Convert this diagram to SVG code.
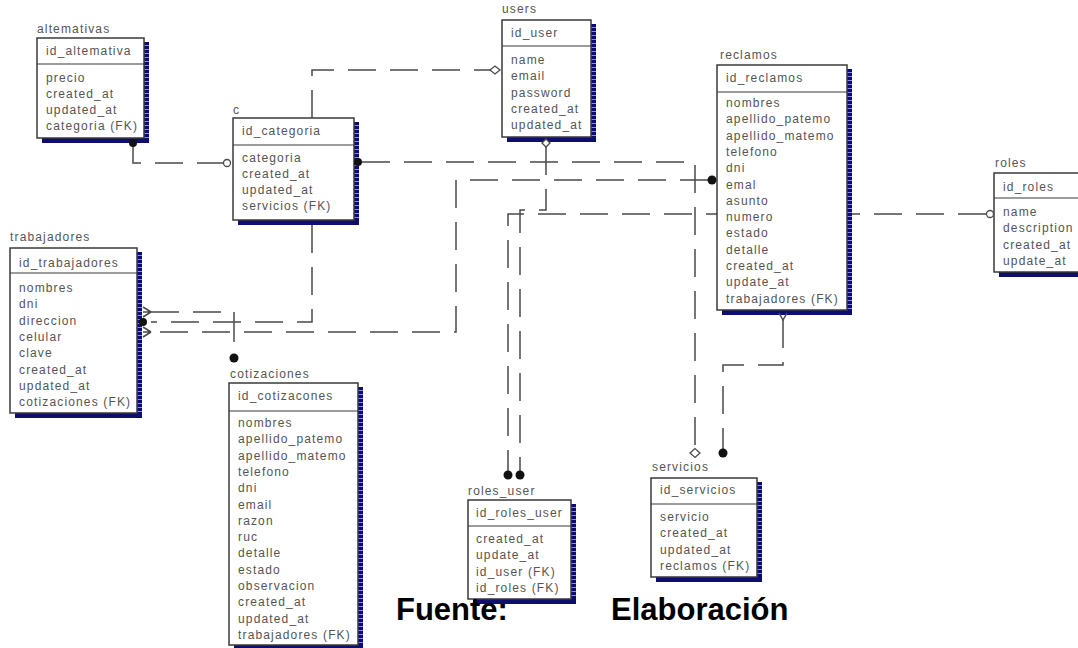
<svg xmlns="http://www.w3.org/2000/svg" width="1078" height="648" viewBox="0 0 1078 648">
<defs>
<pattern id="stripe" width="6" height="4" patternUnits="userSpaceOnUse"><rect width="6" height="4" fill="#0a0a78"/><rect y="3" width="6" height="1" fill="#8c8ce6"/></pattern>
</defs>
<style>
.box{fill:#fff;stroke:#3a3a3a;stroke-width:1.5}
.sep{stroke:#3a3a3a;stroke-width:1.2}
.shr{fill:url(#stripe)}
.shb{fill:#0e0e6e}
.t{font-family:"Liberation Sans",Arial,sans-serif;font-size:12px;fill:#555;letter-spacing:1.15px}
.ln{fill:none;stroke:#4a4a4a;stroke-width:1.5;stroke-dasharray:28 14}
.sl{fill:none;stroke:#4a4a4a;stroke-width:1.5}
.dot{fill:#111}
.hol{fill:#fff;stroke:#4a4a4a;stroke-width:1.3}
.src{font-family:"Liberation Sans",Arial,sans-serif;font-size:31px;font-weight:bold;fill:#000}
</style>
<rect width="1078" height="648" fill="#fff"/>

<g id="connectors">
<path class="ln" d="M133,143 V163 H223"/>
<path class="ln" d="M312,118 V70 H490"/>
<path class="ln" d="M362,162 H695 V448"/>
<path class="ln" d="M312,225 V322 H151"/>
<path class="ln" d="M708,180 H456 V332 H151"/>
<path class="ln" d="M151,312 H234"/>
<path class="sl" d="M234,312 V342"/>
<path class="ln" d="M546,147 V210 H520 V471"/>
<path class="ln" d="M986,214 H508 V471"/>
<path class="ln" d="M783,320 V365 H723 V449"/>
</g>

<g id="alternativas" transform="translate(37,38)">
<rect class="shr" x="107" y="4" width="5" height="100"/>
<rect class="shb" x="5" y="100" width="107" height="5"/>
<rect class="box" width="107" height="100"/>
<line class="sep" x1="0" y1="26" x2="107" y2="26"/>
<text class="t" x="0" y="-5">altemativas</text>
<text class="t" x="9" y="17">id_altemativa</text>
<text class="t" x="9" y="43.5">precio<tspan x="9" dy="16.3">created_at</tspan><tspan x="9" dy="16.3">updated_at</tspan><tspan x="9" dy="16.3">categoria (FK)</tspan></text>
</g>

<g id="categoria" transform="translate(233,118)">
<rect class="shr" x="121" y="4" width="5" height="102"/>
<rect class="shb" x="5" y="102" width="121" height="5"/>
<rect class="box" width="121" height="102"/>
<line class="sep" x1="0" y1="27" x2="121" y2="27"/>
<text class="t" x="0" y="-4">c</text>
<text class="t" x="9" y="17">id_categoria</text>
<text class="t" x="9" y="43.5">categoria<tspan x="9" dy="16.3">created_at</tspan><tspan x="9" dy="16.3">updated_at</tspan><tspan x="9" dy="16.3">servicios (FK)</tspan></text>
</g>

<g id="users" transform="translate(502,20)">
<rect class="shr" x="89" y="4" width="5" height="117"/>
<rect class="shb" x="5" y="117" width="89" height="5"/>
<rect class="box" width="89" height="117"/>
<line class="sep" x1="0" y1="26" x2="89" y2="26"/>
<text class="t" x="0" y="-7">users</text>
<text class="t" x="9" y="17">id_user</text>
<text class="t" x="9" y="44">name<tspan x="9" dy="16.3">email</tspan><tspan x="9" dy="16.3">password</tspan><tspan x="9" dy="16.3">created_at</tspan><tspan x="9" dy="16.3">updated_at</tspan></text>
</g>

<g id="reclamos" transform="translate(717,65)">
<rect class="shr" x="130" y="4" width="5" height="245"/>
<rect class="shb" x="5" y="245" width="130" height="5"/>
<rect class="box" width="130" height="245"/>
<line class="sep" x1="0" y1="27" x2="130" y2="27"/>
<text class="t" x="3" y="-6">reclamos</text>
<text class="t" x="9" y="17">id_reclamos</text>
<text class="t" x="9" y="42">nombres<tspan x="9" dy="16.3">apellido_patemo</tspan><tspan x="9" dy="16.3">apellido_matemo</tspan><tspan x="9" dy="16.3">telefono</tspan><tspan x="9" dy="16.3">dni</tspan><tspan x="9" dy="16.3">emal</tspan><tspan x="9" dy="16.3">asunto</tspan><tspan x="9" dy="16.3">numero</tspan><tspan x="9" dy="16.3">estado</tspan><tspan x="9" dy="16.3">detalle</tspan><tspan x="9" dy="16.3">created_at</tspan><tspan x="9" dy="16.3">update_at</tspan><tspan x="9" dy="16.3">trabajadores (FK)</tspan></text>
</g>

<g id="roles" transform="translate(994,173)">
<rect class="shr" x="100" y="4" width="5" height="99"/>
<rect class="shb" x="5" y="99" width="100" height="5"/>
<rect class="box" width="100" height="99"/>
<line class="sep" x1="0" y1="25" x2="100" y2="25"/>
<text class="t" x="1" y="-6">roles</text>
<text class="t" x="9" y="18">id_roles</text>
<text class="t" x="9" y="43">name<tspan x="9" dy="16.3">description</tspan><tspan x="9" dy="16.3">created_at</tspan><tspan x="9" dy="16.3">update_at</tspan></text>
</g>

<g id="trabajadores" transform="translate(10,248)">
<rect class="shr" x="127" y="4" width="5" height="165"/>
<rect class="shb" x="5" y="165" width="127" height="5"/>
<rect class="box" width="127" height="165"/>
<line class="sep" x1="0" y1="25" x2="127" y2="25"/>
<text class="t" x="0" y="-7">trabajadores</text>
<text class="t" x="9" y="19">id_trabajadores</text>
<text class="t" x="9" y="44">nombres<tspan x="9" dy="16.3">dni</tspan><tspan x="9" dy="16.3">direccion</tspan><tspan x="9" dy="16.3">celular</tspan><tspan x="9" dy="16.3">clave</tspan><tspan x="9" dy="16.3">created_at</tspan><tspan x="9" dy="16.3">updated_at</tspan><tspan x="9" dy="16.3">cotizaciones (FK)</tspan></text>
</g>

<g id="cotizaciones" transform="translate(229,383)">
<rect class="shr" x="129" y="4" width="5" height="262"/>
<rect class="shb" x="5" y="262" width="129" height="5"/>
<rect class="box" width="129" height="262"/>
<line class="sep" x1="0" y1="28" x2="129" y2="28"/>
<text class="t" x="1" y="-5">cotizaciones</text>
<text class="t" x="9" y="17">id_cotizacones</text>
<text class="t" x="9" y="44">nombres<tspan x="9" dy="16.3">apellido_patemo</tspan><tspan x="9" dy="16.3">apellido_matemo</tspan><tspan x="9" dy="16.3">telefono</tspan><tspan x="9" dy="16.3">dni</tspan><tspan x="9" dy="16.3">email</tspan><tspan x="9" dy="16.3">razon</tspan><tspan x="9" dy="16.3">ruc</tspan><tspan x="9" dy="16.3">detalle</tspan><tspan x="9" dy="16.3">estado</tspan><tspan x="9" dy="16.3">observacion</tspan><tspan x="9" dy="16.3">created_at</tspan><tspan x="9" dy="16.3">updated_at</tspan><tspan x="9" dy="16.3">trabajadores (FK)</tspan></text>
</g>

<g id="servicios" transform="translate(651,478)">
<rect class="shr" x="106" y="4" width="5" height="99"/>
<rect class="shb" x="5" y="99" width="106" height="5"/>
<rect class="box" width="106" height="99"/>
<line class="sep" x1="0" y1="26" x2="106" y2="26"/>
<text class="t" x="1" y="-7">servicios</text>
<text class="t" x="9" y="16">id_servicios</text>
<text class="t" x="9" y="43">servicio<tspan x="9" dy="16.3">created_at</tspan><tspan x="9" dy="16.3">updated_at</tspan><tspan x="9" dy="16.3">reclamos (FK)</tspan></text>
</g>

<g id="roles_user" transform="translate(468,500)">
<rect class="shr" x="103" y="4" width="5" height="99"/>
<rect class="shb" x="5" y="99" width="103" height="5"/>
<rect class="box" width="103" height="99"/>
<line class="sep" x1="0" y1="26" x2="103" y2="26"/>
<text class="t" x="0" y="-5">roles_user</text>
<text class="t" x="8" y="17">id_roles_user</text>
<text class="t" x="8" y="43">created_at<tspan x="8" dy="16.3">update_at</tspan><tspan x="8" dy="16.3">id_user (FK)</tspan><tspan x="8" dy="16.3">id_roles (FK)</tspan></text>
</g>

<g id="connector-ends">
<circle class="dot" cx="133" cy="143" r="4"/>
<circle class="hol" cx="227" cy="163" r="3.5"/>
<polygon class="hol" points="490,70 495,66 500,70 495,74"/>
<circle class="dot" cx="358" cy="162" r="4"/>
<polygon class="hol" points="690,453 695,448.5 700,453 695,457.5"/>
<path class="sl" d="M143,312 H151 M151,312 L143,307 M151,312 L143,317 M143,332 H151 M151,332 L143,327 M151,332 L143,337"/>
<circle class="dot" cx="143" cy="322" r="4"/>
<circle class="dot" cx="234" cy="358" r="4.5"/>
<circle class="dot" cx="712" cy="180" r="4.5"/>
<polygon class="hol" points="542,143 546,139 550,143 546,147"/>
<circle class="dot" cx="508" cy="475" r="4.5"/>
<circle class="dot" cx="520" cy="475" r="4.5"/>
<circle class="hol" cx="990" cy="214" r="3.5"/>
<path class="sl" d="M779,313 L783,320 L787,313"/>
<circle class="dot" cx="723" cy="453" r="4.5"/>
</g>

<g id="caption">
<text class="src" x="396" y="620">Fuente:</text>
<text class="src" x="611" y="620">Elaboración</text>
</g>
</svg>
